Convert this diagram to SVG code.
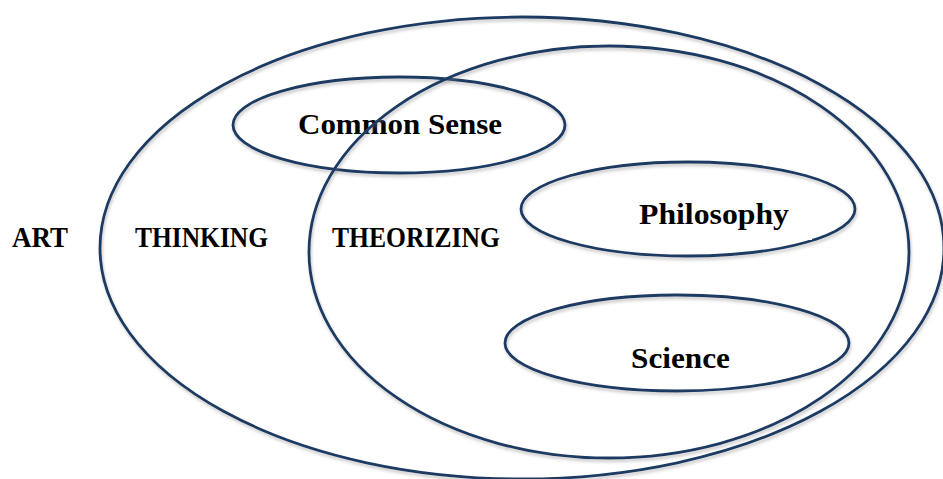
<svg xmlns="http://www.w3.org/2000/svg" width="943" height="479" viewBox="0 0 943 479">
<style>
.ring{fill:none;stroke:#1b3a64;stroke-width:2.8;filter:url(#sh)}
.lbl{font-family:"Liberation Serif","Times New Roman",serif;font-weight:bold;font-size:29.5px;fill:#000}
</style>
<defs>
<filter id="sh" x="-10%" y="-10%" width="120%" height="125%">
<feDropShadow dx="1" dy="2.5" stdDeviation="1.5" flood-color="#808080" flood-opacity="0.45"/>
</filter>
</defs>
<rect x="0" y="0" width="943" height="479" fill="#fff"/>
<g id="art">
<text class="lbl" x="12" y="247" textLength="56" lengthAdjust="spacingAndGlyphs">ART</text>
</g>
<g id="common-sense">
<text class="lbl" x="298" y="134" textLength="204" lengthAdjust="spacingAndGlyphs">Common Sense</text>
<ellipse class="ring" cx="399" cy="125" rx="166" ry="48"/>
</g>
<g id="thinking">
<ellipse class="ring" cx="522" cy="248" rx="422" ry="231"/>
<text class="lbl" x="135" y="247" textLength="133" lengthAdjust="spacingAndGlyphs">THINKING</text>
</g>
<g id="theorizing">
<ellipse class="ring" cx="609" cy="252" rx="300" ry="206"/>
<text class="lbl" x="332" y="247" textLength="168" lengthAdjust="spacingAndGlyphs">THEORIZING</text>
</g>
<g id="philosophy">
<ellipse class="ring" cx="688" cy="209" rx="167" ry="47"/>
<rect x="630" y="185" width="182" height="55" fill="#fff"/>
<text class="lbl" x="639" y="224" textLength="150" lengthAdjust="spacingAndGlyphs">Philosophy</text>
</g>
<g id="science">
<ellipse class="ring" cx="677" cy="343" rx="172" ry="48"/>
<text class="lbl" x="631" y="368" textLength="99" lengthAdjust="spacingAndGlyphs">Science</text>
</g>
<g id="connectors"></g>
</svg>
